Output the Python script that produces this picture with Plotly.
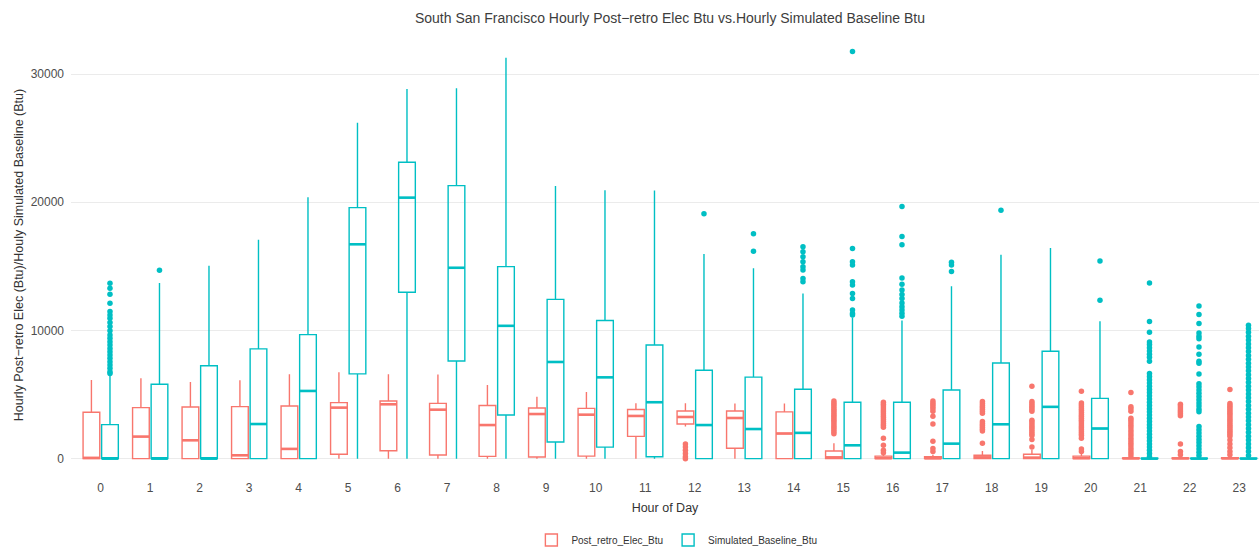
import plotly.graph_objects as go

hours = list(range(24))

# Post-retro electricity (red) box statistics
red_q1 = [0, 0, 0, 0, 0, 340, 620, 280, 180, 130, 200, 1740, 2700, 810, 0, 0, 0, 0, 0, 0, 0, 0, 0, 0]
red_med = [60, 1720, 1430, 260, 760, 3980, 4240, 3820, 2620, 3480, 3430, 3330, 3250, 3170, 1960, 100, 40, 30, 100, 80, 40, 20, 20, 20]
red_q3 = [3620, 3980, 4030, 4060, 4110, 4370, 4500, 4310, 4140, 3950, 3920, 3830, 3720, 3720, 3650, 600, 200, 150, 260, 340, 200, 60, 60, 80]
red_lo = [0, 0, 0, 0, 0, 0, 0, 0, 0, 0, 0, 0, 2500, 0, 0, 0, 0, 0, 0, 0, 0, 0, 0, 0]
red_hi = [6140, 6270, 5980, 6110, 6580, 6740, 6580, 6560, 5740, 4830, 5200, 4330, 4320, 4310, 4310, 1200, 450, 300, 600, 700, 450, 120, 120, 180]

# Simulated baseline (cyan) box statistics
cyan_q1 = [0, 0, 0, 0, 0, 6610, 12980, 7620, 3400, 1300, 900, 150, 0, 0, 0, 0, 0, 0, 0, 0, 0, 0, 0, 0]
cyan_med = [0, 0, 0, 2700, 5280, 16720, 20360, 14890, 10360, 7540, 6340, 4400, 2620, 2310, 2010, 1040, 470, 1170, 2680, 4040, 2350, 0, 0, 0]
cyan_q3 = [2650, 5800, 7250, 8560, 9670, 19580, 23120, 21300, 14980, 12420, 10780, 8860, 6890, 6360, 5410, 4400, 4400, 5350, 7460, 8380, 4700, 40, 40, 40]
cyan_lo = [0] * 24
cyan_hi = [6600, 13700, 15050, 17080, 20390, 26210, 28840, 28900, 31270, 21270, 20940, 20910, 15960, 14860, 12890, 11000, 10780, 13450, 15900, 16430, 10720, 100, 100, 100]

# Outlier points by hour
red_outliers = {
    12: [1150, 900, 650, 400, 150, 0],
    15: [4500, 4350, 4200, 4050, 3900, 3750, 3600, 3450, 3300, 3150, 3000, 2850, 2700, 2550, 2400, 2250, 2100, 1950],
    16: [4400, 4250, 4100, 3950, 3800, 3650, 3500, 3350, 3200, 3050, 2900, 2750, 2600, 2450, 1600, 1050, 650, 450],
    17: [4500, 4350, 4200, 4050, 3900, 3700, 3300, 2700, 1350, 800, 550],
    18: [4450, 4300, 4150, 4000, 3850, 3700, 3550, 2900, 2750, 2600, 2450, 2300, 2150, 1200],
    19: [5650, 4450, 4300, 4150, 4000, 3850, 3700, 3000, 2850, 2700, 2550, 2400, 2250, 2100, 1950, 1800, 1500, 900],
    20: [5250, 4350, 4200, 4050, 3900, 3750, 3600, 3450, 3300, 3150, 3000, 2850, 2700, 2550, 2400, 2250, 2100, 1950, 1800, 1600, 750, 550],
    21: [5150, 4050, 3900, 3700, 3150, 3000, 2800, 2600, 2400, 2200, 2000, 1800, 1600, 1400, 1200, 1000, 800, 600, 400, 200],
    22: [4250, 4100, 3950, 3800, 3650, 3500, 3350, 1150, 550, 300],
    23: [5400, 4300, 4150, 4000, 3850, 3700, 3550, 3400, 3250, 3100, 2950, 2800, 2650, 2500, 2350, 2200, 2050, 1900, 1750, 1450, 1150, 850, 550, 300],
}
cyan_outliers = {
    0: [13680, 13290, 12820, 12120, 11470, 11200, 10950, 10610, 10300, 9980, 9650, 9390, 9120, 8860, 8600, 8340, 8080, 7830, 7560, 7300, 7050, 6780, 6650],
    1: [14700],
    12: [19100],
    13: [16170, 17550],
    14: [16520, 16130, 15740, 15350, 14960, 14710, 14060, 13800],
    15: [31750, 16400, 15360, 15100, 13800, 13540, 12890, 12500, 11590, 11330, 11200],
    16: [19660, 17330, 16680, 14100, 13600, 13150, 12800, 12500, 12150, 11850, 11600, 11350, 11100],
    17: [15310, 15110, 14590],
    18: [19370],
    20: [15420, 12360],
    21: [13700, 10700, 9850, 9100, 8900, 8650, 8400, 8150, 7900, 7600, 6650, 6400, 6150, 5900, 5650, 5400, 5150,
         4900, 4650, 4400, 4150, 3900, 3650, 3400, 3150, 2900, 2650, 2400, 2150, 1900, 1650, 1400, 1150, 900, 650, 400, 150],
    22: [11900, 11250, 10550, 9800, 9550, 9350, 8700, 8150, 7600, 7450, 6600, 5850, 5600, 5350, 5100, 4850, 4600,
         4350, 4100, 3850, 3650, 2500, 2250, 2000, 1750, 1500, 1250, 1000, 750, 500, 250],
    23: [10400, 10150, 9850, 9550, 9250, 8950, 8650, 8350, 8050, 7750, 7450, 7150, 6850, 6550, 6250, 5950, 5650,
         5350, 5050, 4750, 4450, 4150, 3850, 3550, 3250, 2950, 2650, 2350, 2050, 1750, 1450, 1150, 850, 550, 250],
}

series_names = ["Post_retro_Elec_Btu", "Simulated_Baseline_Btu"]
colors = ["#F8766D", "#00BFC4"]
x_ticks = [str(h) for h in hours]
y_ticks = [0, 10000, 20000, 30000]

BOXGAP = 0.25
GROUPGAP = 0.1
offset = (1 - BOXGAP) / 4
box_w = (1 - BOXGAP) / 2 * (1 - GROUPGAP)

fig = go.Figure()
stats = [
    (red_q1, red_med, red_q3, red_lo, red_hi, red_outliers, -offset),
    (cyan_q1, cyan_med, cyan_q3, cyan_lo, cyan_hi, cyan_outliers, offset),
]
for (q1, med, q3, lo, hi, outl, off), name, col in zip(stats, series_names, colors):
    fig.add_trace(go.Box(
        name=name, x=hours, q1=q1, median=med, q3=q3,
        lowerfence=lo, upperfence=hi,
        boxpoints=False, line=dict(color=col, width=1.4),
        fillcolor="rgba(255,255,255,0)", marker=dict(color=col),
        whiskerwidth=0, legendgroup=name,
    ))
    # thicker median bars (ggplot style)
    mx, my = [], []
    for h, m in zip(hours, med):
        mx += [h + off - box_w / 2, h + off + box_w / 2, None]
        my += [m, m, None]
    fig.add_trace(go.Scatter(
        x=mx, y=my, mode="lines", line=dict(color=col, width=2.6),
        showlegend=False, legendgroup=name, hoverinfo="skip",
    ))
    ox, oy = [], []
    for h, vals in outl.items():
        for v in vals:
            ox.append(h + off)
            oy.append(v)
    fig.add_trace(go.Scatter(
        x=ox, y=oy, mode="markers", marker=dict(color=col, size=5.5),
        showlegend=False, legendgroup=name, hoverinfo="y",
    ))

fig.update_layout(
    width=1259, height=551,
    template="none",
    paper_bgcolor="white", plot_bgcolor="white",
    font=dict(family="Liberation Sans, Arial, sans-serif", color="#4d4d4d", size=12),
    title=dict(
        text="South San Francisco Hourly Post\u2212retro Elec Btu vs.Hourly Simulated Baseline Btu",
        x=670 / 1259, xanchor="center", xref="container", y=1 - 18 / 551, yanchor="middle", yref="container",
        font=dict(size=14, color="#3d3d3d"), automargin=False,
    ),
    boxmode="group", boxgap=BOXGAP, boxgroupgap=GROUPGAP,
    margin=dict(l=71, r=0, t=31, b=72, pad=0, autoexpand=False),
    showlegend=True,
    legend=dict(
        orientation="h", x=0.51, xanchor="center", y=-0.136, yanchor="middle",
        yref="paper", font=dict(size=10, color="#333333"),
    ),
    xaxis=dict(
        range=[-0.6, 23.4], tickmode="array", tickvals=hours, ticktext=x_ticks,
        showgrid=False, zeroline=False, showline=False, ticks="", ticklen=0, automargin=False,
        tickfont=dict(size=12, color="#4d4d4d"),
        title=dict(text="Hour of Day", font=dict(size=12.5, color="#333333"), standoff=9),
    ),
    yaxis=dict(
        range=[-1588, 33358], tickmode="array", tickvals=y_ticks, tickformat="d",
        showgrid=True, gridcolor="#ebebeb", gridwidth=1, zeroline=False, automargin=False,
        showline=False, ticks="", ticklen=0, ticklabelstandoff=6, tickfont=dict(size=12, color="#4d4d4d"),
        title=dict(text="Hourly Post\u2212retro Elec (Btu)/Houly Simulated Baseline (Btu)",
                   font=dict(size=12.5, color="#333333"), standoff=4),
    ),
)

fig.write_html("out.html", config={"displayModeBar": False},
               post_script="document.body.style.margin='0';")
